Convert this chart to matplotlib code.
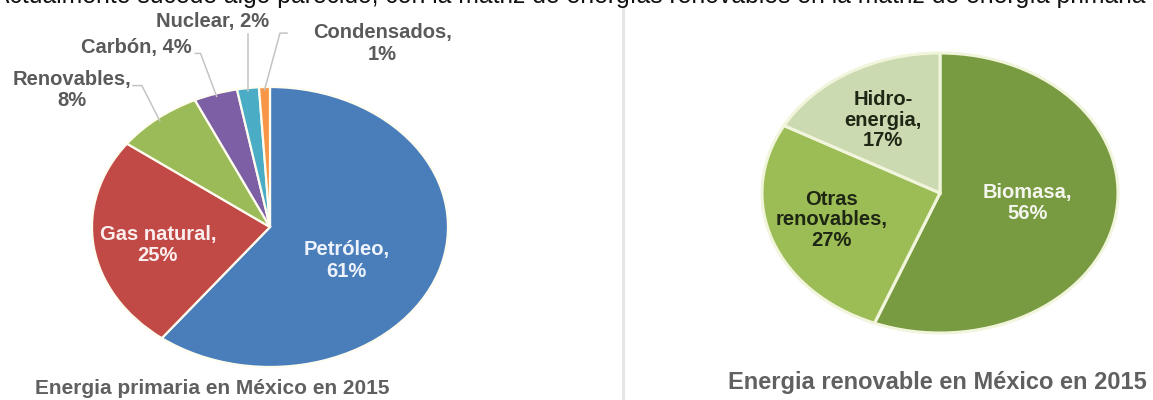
import numpy as np
import matplotlib
matplotlib.use("Agg")
import matplotlib.pyplot as plt

# primary energy, clockwise from 12 o'clock
prim_names = ['Petróleo', 'Gas natural', 'Renovables', 'Carbón', 'Nuclear', 'Condensados']
prim_values = [61, 25, 8, 4, 2, 1]
prim_colors = ['#4a7ebb', '#c24a46', '#9bbb59', '#7d5fa6', '#4bacc6', '#f79646']

# renewable energy
ren_names = ['Biomasa', 'Otras renovables', 'Hidroenergia']
ren_values = [56, 27, 17]
ren_colors = ['#789a41', '#9cbc55', '#ccdab2']

W, H = 1153, 400
fig = plt.figure(figsize=(W / 100, H / 100), dpi=100)
fig.patch.set_facecolor('white')
plt.rcParams['font.family'] = ['Liberation Sans', 'DejaVu Sans']

LFS = 14.5  # pie label size


def px_axes(x0, y0, x1, y1):
    # pixel box (from top-left) -> axes
    return fig.add_axes([x0 / W, 1 - y1 / H, (x1 - x0) / W, (y1 - y0) / H])


def draw_pie(ax, values, colors, edge, lw):
    wedges, _ = ax.pie(values, colors=colors, startangle=90, counterclock=False,
                       radius=1.0, wedgeprops=dict(edgecolor=edge, linewidth=lw))
    ax.set_aspect('auto')
    ax.set_xlim(-1, 1)
    ax.set_ylim(-1, 1)
    ax.axis('off')
    return wedges


lab_gray = '#5a5a5a'

# ---- left pie
ax1 = px_axes(92, 87, 448, 367)
w1 = draw_pie(ax1, prim_values, prim_colors, '#fffdf0', 1.6)

ax1.text(0.43, -0.24, 'Petróleo,\n61%', ha='center', va='center', color='#eef3fb',
         fontsize=LFS, fontweight='bold', linespacing=1.15)
ax1.text(-0.63, -0.13, 'Gas natural,\n25%', ha='center', va='center', color='#fbeeee',
         fontsize=LFS, fontweight='bold', linespacing=1.15)

# outside labels: (wedge idx, text pos, text, leader points after the wedge tip)
outside = [
    (2, (-1.11, 0.98), 'Renovables,\n8%', [(-0.72, 1.01), (-0.77, 1.01)]),
    (3, (-0.75, 1.28), 'Carbón, 4%', [(-0.39, 1.24), (-0.42, 1.24)]),
    (4, (-0.32, 1.47), 'Nuclear, 2%', [(None, 1.38)]),
    (5, (0.63, 1.31), 'Condensados,\n1%', [(0.056, 1.385), (0.096, 1.385)]),
]
for idx, pos, txt, pts in outside:
    wd = w1[idx]
    ang = np.deg2rad((wd.theta1 + wd.theta2) / 2)
    tip = (np.cos(ang) * 0.98, np.sin(ang) * 0.98)
    xs = [tip[0]]
    ys = [tip[1]]
    for px, py in pts:
        xs.append(tip[0] if px is None else px)
        ys.append(py)
    ax1.plot(xs, ys, color='#c4c4c4', lw=1.1, clip_on=False)
    ax1.text(pos[0], pos[1], txt, ha='center', va='center', color=lab_gray,
             fontsize=LFS, fontweight='bold', linespacing=1.15, clip_on=False)

# ---- right pie
ax2 = px_axes(762, 53, 1118, 333)
w2 = draw_pie(ax2, ren_values, ren_colors, '#f1f5dc', 2.2)
ax2.text(0.49, -0.07, 'Biomasa,\n56%', ha='center', va='center', color='#f4f6ee',
         fontsize=LFS, fontweight='bold', linespacing=1.15)
ax2.text(-0.61, -0.19, 'Otras\nrenovables,\n27%', ha='center', va='center', color='#1e2614',
         fontsize=LFS, fontweight='bold', linespacing=1.1)
ax2.text(-0.32, 0.52, 'Hidro-\nenergia,\n17%', ha='center', va='center', color='#1e2614',
         fontsize=LFS, fontweight='bold', linespacing=1.1)

# titles
fig.text(212 / W, 1 - 388 / H, 'Energia primaria en México en 2015', ha='center', va='center',
         color='#606060', fontsize=15, fontweight='bold')
fig.text(937 / W, 1 - 383 / H, 'Energia renovable en México en 2015', ha='center', va='center',
         color='#606060', fontsize=17, fontweight='bold')

# separator
fig.add_artist(plt.Line2D([623 / W, 623 / W], [0, 1 - 8 / H], color='#e6e6e6', lw=2.2))

# clipped sentence at the very top (only its lower part shows, as in the source)
fig.text(-0.006, 1 - 3 / H,
         'Actualmente sucede algo parecido, con la matriz de energías renovables en la matriz de energía primaria',
         ha='left', va='baseline', color='#111111', fontsize=17.8)

fig.savefig('out.png', dpi=100, facecolor='white')
